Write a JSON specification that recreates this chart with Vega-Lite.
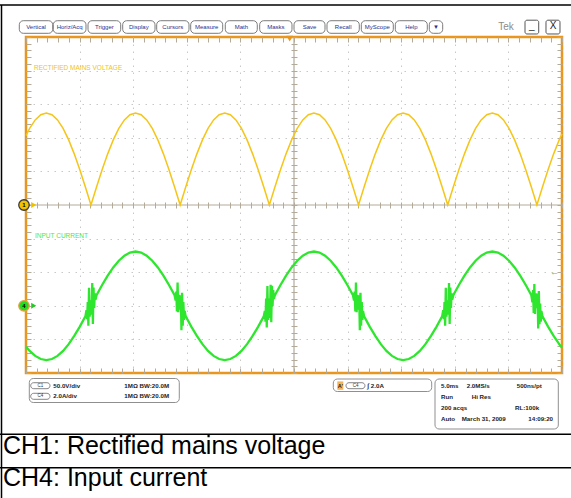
{
"$schema": "https://vega.github.io/schema/vega-lite/v6.json",
"width": 536, "height": 336,
"autosize": "none",
"padding": {"left": 26, "top": 37, "right": 9, "bottom": 125},
"background": "#ffffff",
"config": {"view": {"stroke": "#E8961E", "strokeWidth": 2.5}, "text": {"font": "Liberation Sans"}},
"datasets": {
"voltage": [{"t":0,"v":103.2},{"t":0.34,"v":113.9},{"t":0.86,"v":126.6},{"t":1.38,"v":134.4},{"t":1.9,"v":137},{"t":2.42,"v":134.4},{"t":2.94,"v":126.6},{"t":3.46,"v":113.9},{"t":3.98,"v":96.9},{"t":4.5,"v":76.1},{"t":5.02,"v":52.4},{"t":5.54,"v":26.7},{"t":6.06,"v":0},{"t":6.58,"v":26.7},{"t":7.1,"v":52.4},{"t":7.62,"v":76.1},{"t":8.14,"v":96.9},{"t":8.66,"v":113.9},{"t":9.18,"v":126.6},{"t":9.7,"v":134.4},{"t":10.22,"v":137},{"t":10.74,"v":134.4},{"t":11.26,"v":126.6},{"t":11.78,"v":113.9},{"t":12.3,"v":96.9},{"t":12.82,"v":76.1},{"t":13.34,"v":52.4},{"t":13.86,"v":26.7},{"t":14.38,"v":0},{"t":14.9,"v":26.7},{"t":15.42,"v":52.4},{"t":15.94,"v":76.1},{"t":16.46,"v":96.9},{"t":16.98,"v":113.9},{"t":17.5,"v":126.6},{"t":18.02,"v":134.4},{"t":18.54,"v":137},{"t":19.06,"v":134.4},{"t":19.58,"v":126.6},{"t":20.1,"v":113.9},{"t":20.62,"v":96.9},{"t":21.14,"v":76.1},{"t":21.66,"v":52.4},{"t":22.18,"v":26.7},{"t":22.7,"v":0},{"t":23.22,"v":26.7},{"t":23.74,"v":52.4},{"t":24.26,"v":76.1},{"t":24.78,"v":96.9},{"t":25.3,"v":113.9},{"t":25.82,"v":126.6},{"t":26.34,"v":134.4},{"t":26.86,"v":137},{"t":27.38,"v":134.4},{"t":27.9,"v":126.6},{"t":28.42,"v":113.9},{"t":28.94,"v":96.9},{"t":29.46,"v":76.1},{"t":29.98,"v":52.4},{"t":30.5,"v":26.7},{"t":31.02,"v":0},{"t":31.54,"v":26.7},{"t":32.06,"v":52.4},{"t":32.58,"v":76.1},{"t":33.1,"v":96.9},{"t":33.62,"v":113.9},{"t":34.14,"v":126.6},{"t":34.66,"v":134.4},{"t":35.18,"v":137},{"t":35.7,"v":134.4},{"t":36.22,"v":126.6},{"t":36.74,"v":113.9},{"t":37.26,"v":96.9},{"t":37.78,"v":76.1},{"t":38.3,"v":52.4},{"t":38.82,"v":26.7},{"t":39.34,"v":0},{"t":39.86,"v":26.7},{"t":40.38,"v":52.4},{"t":40.9,"v":76.1},{"t":41.42,"v":96.9},{"t":41.94,"v":113.9},{"t":42.46,"v":126.6},{"t":42.98,"v":134.4},{"t":43.5,"v":137},{"t":44.02,"v":134.4},{"t":44.54,"v":126.6},{"t":45.06,"v":113.9},{"t":45.58,"v":96.9},{"t":46.1,"v":76.1},{"t":46.62,"v":52.4},{"t":47.14,"v":26.7},{"t":47.66,"v":0},{"t":48.18,"v":26.7},{"t":48.7,"v":52.4},{"t":49.22,"v":76.1},{"t":49.74,"v":96.9},{"t":50,"v":105.9}],
"current": [{"t":0,"i":-2.434},{"t":0.34,"i":-2.686},{"t":0.86,"i":-2.984},{"t":1.38,"i":-3.168},{"t":1.9,"i":-3.23},{"t":2.42,"i":-3.168},{"t":2.94,"i":-2.984},{"t":3.46,"i":-2.686},{"t":3.98,"i":-2.284},{"t":4.5,"i":-1.795},{"t":5.02,"i":-1.236},{"t":5.54,"i":-0.63},
{"t":5.64,"i":-0.26},{"t":5.7,"i":-0.79},{"t":5.76,"i":0.23},{"t":5.82,"i":-1.19},{"t":5.88,"i":1.08},{"t":5.94,"i":-0.65},{"t":6.0,"i":0.33},{"t":6.06,"i":0},{"t":6.12,"i":-0.53},{"t":6.18,"i":1.35},{"t":6.24,"i":-1.08},{"t":6.3,"i":1.09},{"t":6.36,"i":-0.13},{"t":6.42,"i":0.74},{"t":6.48,"i":0.36},
{"t":6.58,"i":0.63},{"t":7.1,"i":1.236},{"t":7.62,"i":1.795},{"t":8.14,"i":2.284},{"t":8.66,"i":2.686},{"t":9.18,"i":2.984},{"t":9.7,"i":3.168},{"t":10.22,"i":3.23},{"t":10.74,"i":3.168},{"t":11.26,"i":2.984},{"t":11.78,"i":2.686},{"t":12.3,"i":2.284},{"t":12.82,"i":1.795},{"t":13.34,"i":1.236},{"t":13.86,"i":0.63},
{"t":13.96,"i":0.31},{"t":14.02,"i":0.84},{"t":14.08,"i":-0.33},{"t":14.14,"i":1.39},{"t":14.2,"i":-0.38},{"t":14.26,"i":0.65},{"t":14.32,"i":-0.23},{"t":14.38,"i":0},{"t":14.44,"i":0.63},{"t":14.5,"i":-1.45},{"t":14.56,"i":0.78},{"t":14.62,"i":-1.19},{"t":14.68,"i":0.23},{"t":14.74,"i":-0.84},{"t":14.8,"i":-0.31},
{"t":14.9,"i":-0.63},{"t":15.42,"i":-1.236},{"t":15.94,"i":-1.795},{"t":16.46,"i":-2.284},{"t":16.98,"i":-2.686},{"t":17.5,"i":-2.984},{"t":18.02,"i":-3.168},{"t":18.54,"i":-3.23},{"t":19.06,"i":-3.168},{"t":19.58,"i":-2.984},{"t":20.1,"i":-2.686},{"t":20.62,"i":-2.284},{"t":21.14,"i":-1.795},{"t":21.66,"i":-1.236},{"t":22.18,"i":-0.63},
{"t":22.28,"i":-0.31},{"t":22.34,"i":-0.94},{"t":22.4,"i":0.43},{"t":22.46,"i":-1.29},{"t":22.52,"i":1.18},{"t":22.58,"i":-0.85},{"t":22.64,"i":0.43},{"t":22.7,"i":0},{"t":22.76,"i":-0.73},{"t":22.82,"i":1.25},{"t":22.88,"i":-0.98},{"t":22.94,"i":1.19},{"t":23.0,"i":-0.03},{"t":23.06,"i":0.94},{"t":23.12,"i":0.41},
{"t":23.22,"i":0.63},{"t":23.74,"i":1.236},{"t":24.26,"i":1.795},{"t":24.78,"i":2.284},{"t":25.3,"i":2.686},{"t":25.82,"i":2.984},{"t":26.34,"i":3.168},{"t":26.86,"i":3.23},{"t":27.38,"i":3.168},{"t":27.9,"i":2.984},{"t":28.42,"i":2.686},{"t":28.94,"i":2.284},{"t":29.46,"i":1.795},{"t":29.98,"i":1.236},{"t":30.5,"i":0.63},
{"t":30.6,"i":0.31},{"t":30.66,"i":0.84},{"t":30.72,"i":-0.33},{"t":30.78,"i":1.39},{"t":30.84,"i":-0.38},{"t":30.9,"i":0.65},{"t":30.96,"i":-0.23},{"t":31.02,"i":0},{"t":31.08,"i":0.63},{"t":31.14,"i":-1.45},{"t":31.2,"i":0.78},{"t":31.26,"i":-1.19},{"t":31.32,"i":0.23},{"t":31.38,"i":-0.84},{"t":31.44,"i":-0.31},
{"t":31.54,"i":-0.63},{"t":32.06,"i":-1.236},{"t":32.58,"i":-1.795},{"t":33.1,"i":-2.284},{"t":33.62,"i":-2.686},{"t":34.14,"i":-2.984},{"t":34.66,"i":-3.168},{"t":35.18,"i":-3.23},{"t":35.7,"i":-3.168},{"t":36.22,"i":-2.984},{"t":36.74,"i":-2.686},{"t":37.26,"i":-2.284},{"t":37.78,"i":-1.795},{"t":38.3,"i":-1.236},{"t":38.82,"i":-0.63},
{"t":38.92,"i":-0.26},{"t":38.98,"i":-0.79},{"t":39.04,"i":0.23},{"t":39.1,"i":-1.19},{"t":39.16,"i":1.08},{"t":39.22,"i":-0.65},{"t":39.28,"i":0.33},{"t":39.34,"i":0},{"t":39.4,"i":-0.53},{"t":39.46,"i":1.35},{"t":39.52,"i":-1.08},{"t":39.58,"i":1.09},{"t":39.64,"i":-0.13},{"t":39.7,"i":0.74},{"t":39.76,"i":0.36},
{"t":39.86,"i":0.63},{"t":40.38,"i":1.236},{"t":40.9,"i":1.795},{"t":41.42,"i":2.284},{"t":41.94,"i":2.686},{"t":42.46,"i":2.984},{"t":42.98,"i":3.168},{"t":43.5,"i":3.23},{"t":44.02,"i":3.168},{"t":44.54,"i":2.984},{"t":45.06,"i":2.686},{"t":45.58,"i":2.284},{"t":46.1,"i":1.795},{"t":46.62,"i":1.236},{"t":47.14,"i":0.63},
{"t":47.24,"i":0.21},{"t":47.3,"i":0.94},{"t":47.36,"i":-0.43},{"t":47.42,"i":1.29},{"t":47.48,"i":-0.48},{"t":47.54,"i":0.75},{"t":47.6,"i":-0.13},{"t":47.66,"i":0},{"t":47.72,"i":0.73},{"t":47.78,"i":-1.35},{"t":47.84,"i":0.88},{"t":47.9,"i":-1.09},{"t":47.96,"i":0.13},{"t":48.02,"i":-0.94},{"t":48.08,"i":-0.31},
{"t":48.18,"i":-0.63},{"t":48.7,"i":-1.236},{"t":49.22,"i":-1.795},{"t":49.74,"i":-2.284},{"t":50,"i":-2.496}],
"frame": [{"x1":-2.425,"x2":50.84,"y1":5.952,"y2":5.952},{"x1":-2.285,"x2":-2.285,"y1":5.952,"y2":-8.72},{"x1":-2.425,"x2":50.84,"y1":-6.824,"y2":-6.824},{"x1":-2.425,"x2":50.84,"y1":-7.818,"y2":-7.818}],
"buttons": [{"label":"Vertical","start":-0.625,"end":2.491,"mid":0.933},{"label":"Horiz/Acq","start":2.547,"end":5.597,"mid":4.072},{"label":"Trigger","start":5.784,"end":8.834,"mid":7.309},{"label":"Display","start":9.02,"end":12.034,"mid":10.527},{"label":"Cursors","start":12.192,"end":15.205,"mid":13.699},{"label":"Measure","start":15.364,"end":18.349,"mid":16.856},{"label":"Math","start":18.591,"end":21.576,"mid":20.084},{"label":"Masks","start":21.8,"end":24.813,"mid":23.307},{"label":"Save","start":25.0,"end":27.892,"mid":26.446},{"label":"Recall","start":28.078,"end":31.091,"mid":29.585},{"label":"MyScope","start":31.278,"end":34.263,"mid":32.771},{"label":"Help","start":34.45,"end":37.435,"mid":35.942},{"label":"▼","start":37.621,"end":38.871,"mid":38.246}],
"winbuttons": [{"label":"_","start":46.549,"end":47.827,"mid":47.188},{"label":"X","start":48.507,"end":49.813,"mid":49.16}],
"tek": [{"label":"Tek","x":44.78,"y":5.3}],
"boxes": [{"x1":0.308,"x2":14.3,"y1":-5.164,"y2":-5.878},{"x1":28.666,"x2":37.845,"y1":-5.179,"y2":-5.551},{"x1":38.153,"x2":49.655,"y1":-5.179,"y2":-6.667}],
"pills": [{"label":"C1","x1":0.438,"x2":2.239,"xm":1.338,"y1":-5.289,"y2":-5.467,"ym":-5.378},{"label":"C4","x1":0.438,"x2":2.239,"xm":1.338,"y1":-5.604,"y2":-5.783,"ym":-5.694},{"label":"C4","x1":29.85,"x2":31.62,"xm":30.74,"y1":-5.289,"y2":-5.467,"ym":-5.378}],
"trigA": [{"label":"A'","x1":29.04,"x2":29.6,"xm":29.32,"y1":-5.25,"y2":-5.5,"ym":-5.378}],
"info": [{"label":"50.0V/div","x":2.547,"y":-5.378},{"label":"1MΩ  BW:20.0M","x":9.17,"y":-5.378},{"label":"2.0A/div","x":2.547,"y":-5.694},{"label":"1MΩ  BW:20.0M","x":9.17,"y":-5.694},{"label":"∫ 2.0A","x":31.85,"y":-5.378},{"label":"5.0ms","x":38.713,"y":-5.378},{"label":"2.0MS/s","x":41.11,"y":-5.378},{"label":"500ns/pt","x":45.774,"y":-5.378},{"label":"Run","x":38.713,"y":-5.705},{"label":"Hi Res","x":41.576,"y":-5.705},{"label":"200 acqs","x":38.713,"y":-6.033},{"label":"RL:100k","x":45.616,"y":-6.033},{"label":"Auto","x":38.713,"y":-6.378},{"label":"March 31, 2009","x":40.644,"y":-6.378},{"label":"14:09:20","x":46.856,"y":-6.378}],
"captions": [{"label":"CH1: Rectified mains voltage","x":-2.146,"y":-7.4},{"label":"CH4: Input current","x":-2.146,"y":-8.37}],
"chlabels": [{"label":"RECTIFIED MAINS VOLTAGE","x":0.746,"y":4.068,"ch":"CH1"},{"label":"INPUT CURRENT","x":0.84,"y":-0.914,"ch":"CH4"}],
"ch1marker": [{"t":-0.187,"v":0,"label":"1"}],
"ch4marker": [{"t":-0.187,"i":0,"label":"4"}],
"triglevel": [{"t":49.3,"i":2.0}]
},
"resolve": {"scale": {"y": "independent"}, "axis": {"x": "independent", "y": "independent"}},
"layer": [
{
"resolve": {"axis": {"x": "independent", "y": "independent"}},
"layer": [
{"data": {"name": "frame"}, "mark": {"type": "rule", "color": "#000000", "strokeWidth": 1.5},
 "encoding": {
  "x": {"field": "x1", "type": "quantitative", "scale": {"domain": [0, 50], "nice": false, "zero": false},
        "axis": {"orient": "bottom", "grid": true, "values": [5,10,15,20,30,35,40,45], "gridDash": [1.5, 5.5], "gridColor": "#C8C8C8", "gridWidth": 1, "ticks": false, "labels": false, "domain": false, "title": null}},
  "x2": {"field": "x2"},
  "y": {"field": "y1", "type": "quantitative", "scale": {"domain": [-5, 5], "nice": false, "zero": false},
        "axis": {"orient": "left", "grid": true, "values": [-4,-3,-2,-1,1,2,3,4], "gridDash": [1.5, 5.5], "gridColor": "#C8C8C8", "gridWidth": 1, "ticks": false, "labels": false, "domain": false, "title": null}},
  "y2": {"field": "y2"}}},
{"data": {"values": [{}]}, "mark": {"type": "rule", "color": "#B3AA9A", "strokeWidth": 1.2},
 "encoding": {
  "x": {"datum": 25, "type": "quantitative", "scale": {"domain": [0, 50], "nice": false, "zero": false},
        "axis": {"orient": "bottom", "offset": -171, "tickSize": 6, "tickCount": 50, "ticks": true, "labels": false, "domain": false, "grid": false, "title": null, "tickColor": "#B3AA9A", "tickWidth": 1}},
  "y": {"datum": -5, "type": "quantitative", "scale": {"domain": [-5, 5], "nice": false, "zero": false},
        "axis": {"orient": "left", "offset": -271, "tickSize": 6, "tickCount": 50, "ticks": true, "labels": false, "domain": false, "grid": false, "title": null, "tickColor": "#B3AA9A", "tickWidth": 1}},
  "y2": {"datum": 5}}},
{"data": {"values": [{}]}, "mark": {"type": "rule", "color": "#B3AA9A", "strokeWidth": 1.2},
 "encoding": {
  "x": {"datum": 0, "type": "quantitative", "scale": {"domain": [0, 50], "nice": false, "zero": false},
        "axis": {"orient": "top", "offset": -5, "tickSize": 5, "tickCount": 50, "ticks": true, "labels": false, "domain": false, "grid": false, "title": null, "tickColor": "#B3AA9A", "tickWidth": 1}},
  "x2": {"datum": 50},
  "y": {"datum": 0, "type": "quantitative", "scale": {"domain": [-5, 5], "nice": false, "zero": false},
        "axis": {"orient": "left", "offset": -5, "tickSize": 5, "tickCount": 50, "ticks": true, "labels": false, "domain": false, "grid": false, "title": null, "tickColor": "#B3AA9A", "tickWidth": 1}}}},
{"data": {"name": "buttons"}, "mark": {"type": "rect", "fill": "#ffffff", "stroke": "#7B7B7B", "strokeWidth": 1, "cornerRadius": 4},
 "encoding": {
  "x": {"field": "start", "type": "quantitative", "scale": {"domain": [0, 50], "nice": false, "zero": false},
        "axis": {"orient": "bottom", "offset": -5, "tickSize": 5, "tickCount": 50, "ticks": true, "labels": false, "domain": false, "grid": false, "title": null, "tickColor": "#B3AA9A", "tickWidth": 1}},
  "x2": {"field": "end"},
  "y": {"datum": 5.11, "type": "quantitative", "scale": {"domain": [-5, 5], "nice": false, "zero": false},
        "axis": {"orient": "right", "offset": -5, "tickSize": 5, "tickCount": 50, "ticks": true, "labels": false, "domain": false, "grid": false, "title": null, "tickColor": "#B3AA9A", "tickWidth": 1}},
  "y2": {"datum": 5.485}}},
{"data": {"name": "buttons"}, "mark": {"type": "text", "fontSize": 6, "color": "#2B2F8F"},
 "encoding": {
  "x": {"field": "mid", "type": "quantitative", "scale": {"domain": [0, 50], "nice": false, "zero": false}, "axis": null},
  "y": {"datum": 5.3, "type": "quantitative", "scale": {"domain": [-5, 5], "nice": false, "zero": false}, "axis": null},
  "text": {"field": "label"}}},
{"data": {"name": "winbuttons"}, "mark": {"type": "rect", "fill": "#ffffff", "stroke": "#555555", "strokeWidth": 1, "cornerRadius": 2},
 "encoding": {
  "x": {"field": "start", "type": "quantitative", "scale": {"domain": [0, 50], "nice": false, "zero": false}, "axis": null},
  "x2": {"field": "end"},
  "y": {"datum": 5.09, "type": "quantitative", "scale": {"domain": [-5, 5], "nice": false, "zero": false}, "axis": null},
  "y2": {"datum": 5.5}}},
{"data": {"name": "winbuttons"}, "mark": {"type": "text", "fontSize": 10, "color": "#222222", "dy": -1},
 "encoding": {
  "x": {"field": "mid", "type": "quantitative", "scale": {"domain": [0, 50], "nice": false, "zero": false}, "axis": null},
  "y": {"datum": 5.3, "type": "quantitative", "scale": {"domain": [-5, 5], "nice": false, "zero": false}, "axis": null},
  "text": {"field": "label"}}},
{"data": {"name": "tek"}, "mark": {"type": "text", "fontSize": 10, "color": "#8C8C8C"},
 "encoding": {
  "x": {"field": "x", "type": "quantitative", "scale": {"domain": [0, 50], "nice": false, "zero": false}, "axis": null},
  "y": {"field": "y", "type": "quantitative", "scale": {"domain": [-5, 5], "nice": false, "zero": false}, "axis": null},
  "text": {"field": "label"}}},
{"data": {"name": "boxes"}, "mark": {"type": "rect", "fill": "#ffffff", "stroke": "#8F8F8F", "strokeWidth": 1, "cornerRadius": 4},
 "encoding": {
  "x": {"field": "x1", "type": "quantitative", "scale": {"domain": [0, 50], "nice": false, "zero": false}, "axis": null},
  "x2": {"field": "x2"},
  "y": {"field": "y1", "type": "quantitative", "scale": {"domain": [-5, 5], "nice": false, "zero": false}, "axis": null},
  "y2": {"field": "y2"}}},
{"data": {"name": "pills"}, "mark": {"type": "rect", "fill": "#ffffff", "stroke": "#666666", "strokeWidth": 0.8, "cornerRadius": 3.5},
 "encoding": {
  "x": {"field": "x1", "type": "quantitative", "scale": {"domain": [0, 50], "nice": false, "zero": false}, "axis": null},
  "x2": {"field": "x2"},
  "y": {"field": "y1", "type": "quantitative", "scale": {"domain": [-5, 5], "nice": false, "zero": false}, "axis": null},
  "y2": {"field": "y2"}}},
{"data": {"name": "pills"}, "mark": {"type": "text", "fontSize": 4.5, "color": "#333333"},
 "encoding": {
  "x": {"field": "xm", "type": "quantitative", "scale": {"domain": [0, 50], "nice": false, "zero": false}, "axis": null},
  "y": {"field": "ym", "type": "quantitative", "scale": {"domain": [-5, 5], "nice": false, "zero": false}, "axis": null},
  "text": {"field": "label"}}},
{"data": {"name": "trigA"}, "mark": {"type": "rect", "fill": "#F2B45A"},
 "encoding": {
  "x": {"field": "x1", "type": "quantitative", "scale": {"domain": [0, 50], "nice": false, "zero": false}, "axis": null},
  "x2": {"field": "x2"},
  "y": {"field": "y1", "type": "quantitative", "scale": {"domain": [-5, 5], "nice": false, "zero": false}, "axis": null},
  "y2": {"field": "y2"}}},
{"data": {"name": "trigA"}, "mark": {"type": "text", "fontSize": 5.5, "fontWeight": "bold", "color": "#222222"},
 "encoding": {
  "x": {"field": "xm", "type": "quantitative", "scale": {"domain": [0, 50], "nice": false, "zero": false}, "axis": null},
  "y": {"field": "ym", "type": "quantitative", "scale": {"domain": [-5, 5], "nice": false, "zero": false}, "axis": null},
  "text": {"field": "label"}}},
{"data": {"name": "info"}, "mark": {"type": "text", "fontSize": 6.2, "fontWeight": "bold", "color": "#222222", "align": "left"},
 "encoding": {
  "x": {"field": "x", "type": "quantitative", "scale": {"domain": [0, 50], "nice": false, "zero": false}, "axis": null},
  "y": {"field": "y", "type": "quantitative", "scale": {"domain": [-5, 5], "nice": false, "zero": false}, "axis": null},
  "text": {"field": "label"}}},
{"data": {"name": "captions"}, "mark": {"type": "text", "fontSize": 25, "color": "#000000", "align": "left", "baseline": "alphabetic"},
 "encoding": {
  "x": {"field": "x", "type": "quantitative", "scale": {"domain": [0, 50], "nice": false, "zero": false}, "axis": null},
  "y": {"field": "y", "type": "quantitative", "scale": {"domain": [-5, 5], "nice": false, "zero": false}, "axis": null},
  "text": {"field": "label"}}},
{"data": {"name": "chlabels"}, "mark": {"type": "text", "fontSize": 6.5, "align": "left"},
 "encoding": {
  "x": {"field": "x", "type": "quantitative", "scale": {"domain": [0, 50], "nice": false, "zero": false}, "axis": null},
  "y": {"field": "y", "type": "quantitative", "scale": {"domain": [-5, 5], "nice": false, "zero": false}, "axis": null},
  "color": {"field": "ch", "type": "nominal", "scale": {"domain": ["CH1", "CH4"], "range": ["#F2C21B", "#4BE84B"]}, "legend": null},
  "text": {"field": "label"}}},
{"data": {"values": [{}]}, "mark": {"type": "point", "shape": "triangle-down", "filled": true, "color": "#E8961E", "size": 45, "opacity": 1},
 "encoding": {
  "x": {"datum": 24.6, "type": "quantitative", "scale": {"domain": [0, 50], "nice": false, "zero": false}, "axis": null},
  "y": {"datum": 4.95, "type": "quantitative", "scale": {"domain": [-5, 5], "nice": false, "zero": false}, "axis": null}}}
]
},
{
"layer": [
{"data": {"name": "voltage"}, "mark": {"type": "line", "color": "#F5C518", "strokeWidth": 1.5},
 "encoding": {
  "x": {"field": "t", "type": "quantitative", "scale": {"domain": [0, 50], "nice": false, "zero": false}, "axis": null},
  "y": {"field": "v", "type": "quantitative", "scale": {"domain": [-250, 250], "nice": false, "zero": false}, "axis": null}}},
{"data": {"name": "ch1marker"}, "mark": {"type": "point", "shape": "triangle-right", "filled": true, "color": "#F0C000", "size": 35, "opacity": 1},
 "encoding": {
  "x": {"datum": 0.72, "type": "quantitative", "scale": {"domain": [0, 50], "nice": false, "zero": false}, "axis": null},
  "y": {"field": "v", "type": "quantitative", "scale": {"domain": [-250, 250], "nice": false, "zero": false}, "axis": null}}},
{"data": {"name": "ch1marker"}, "mark": {"type": "point", "shape": "circle", "filled": true, "fill": "#F2C200", "stroke": "#3A3A3A", "strokeWidth": 1.3, "size": 110, "opacity": 1},
 "encoding": {
  "x": {"field": "t", "type": "quantitative", "scale": {"domain": [0, 50], "nice": false, "zero": false}, "axis": null},
  "y": {"field": "v", "type": "quantitative", "scale": {"domain": [-250, 250], "nice": false, "zero": false}, "axis": null}}},
{"data": {"name": "ch1marker"}, "mark": {"type": "text", "fontSize": 6, "fontWeight": "bold", "color": "#000000"},
 "encoding": {
  "x": {"field": "t", "type": "quantitative", "scale": {"domain": [0, 50], "nice": false, "zero": false}, "axis": null},
  "y": {"field": "v", "type": "quantitative", "scale": {"domain": [-250, 250], "nice": false, "zero": false}, "axis": null},
  "text": {"field": "label"}}}
]
},
{
"layer": [
{"data": {"name": "current"}, "mark": {"type": "line", "color": "#2EE62E", "strokeWidth": 2.3},
 "encoding": {
  "x": {"field": "t", "type": "quantitative", "scale": {"domain": [0, 50], "nice": false, "zero": false}, "axis": null},
  "y": {"field": "i", "type": "quantitative", "scale": {"domain": [-4, 16], "nice": false, "zero": false}, "axis": null}}},
{"data": {"name": "ch4marker"}, "mark": {"type": "point", "shape": "triangle-right", "filled": true, "color": "#22CC22", "size": 35, "opacity": 1},
 "encoding": {
  "x": {"datum": 0.72, "type": "quantitative", "scale": {"domain": [0, 50], "nice": false, "zero": false}, "axis": null},
  "y": {"field": "i", "type": "quantitative", "scale": {"domain": [-4, 16], "nice": false, "zero": false}, "axis": null}}},
{"data": {"name": "ch4marker"}, "mark": {"type": "point", "shape": "circle", "filled": true, "fill": "#22DD22", "stroke": "#E8A040", "strokeWidth": 1.3, "size": 110, "opacity": 1},
 "encoding": {
  "x": {"field": "t", "type": "quantitative", "scale": {"domain": [0, 50], "nice": false, "zero": false}, "axis": null},
  "y": {"field": "i", "type": "quantitative", "scale": {"domain": [-4, 16], "nice": false, "zero": false}, "axis": null}}},
{"data": {"name": "ch4marker"}, "mark": {"type": "text", "fontSize": 6, "fontWeight": "bold", "color": "#000000"},
 "encoding": {
  "x": {"field": "t", "type": "quantitative", "scale": {"domain": [0, 50], "nice": false, "zero": false}, "axis": null},
  "y": {"field": "i", "type": "quantitative", "scale": {"domain": [-4, 16], "nice": false, "zero": false}, "axis": null},
  "text": {"field": "label"}}},
{"data": {"name": "triglevel"}, "mark": {"type": "text", "fontSize": 9, "color": "#33DD33", "text": "←"},
 "encoding": {
  "x": {"field": "t", "type": "quantitative", "scale": {"domain": [0, 50], "nice": false, "zero": false}, "axis": null},
  "y": {"field": "i", "type": "quantitative", "scale": {"domain": [-4, 16], "nice": false, "zero": false}, "axis": null}}}
]
}
]
}
